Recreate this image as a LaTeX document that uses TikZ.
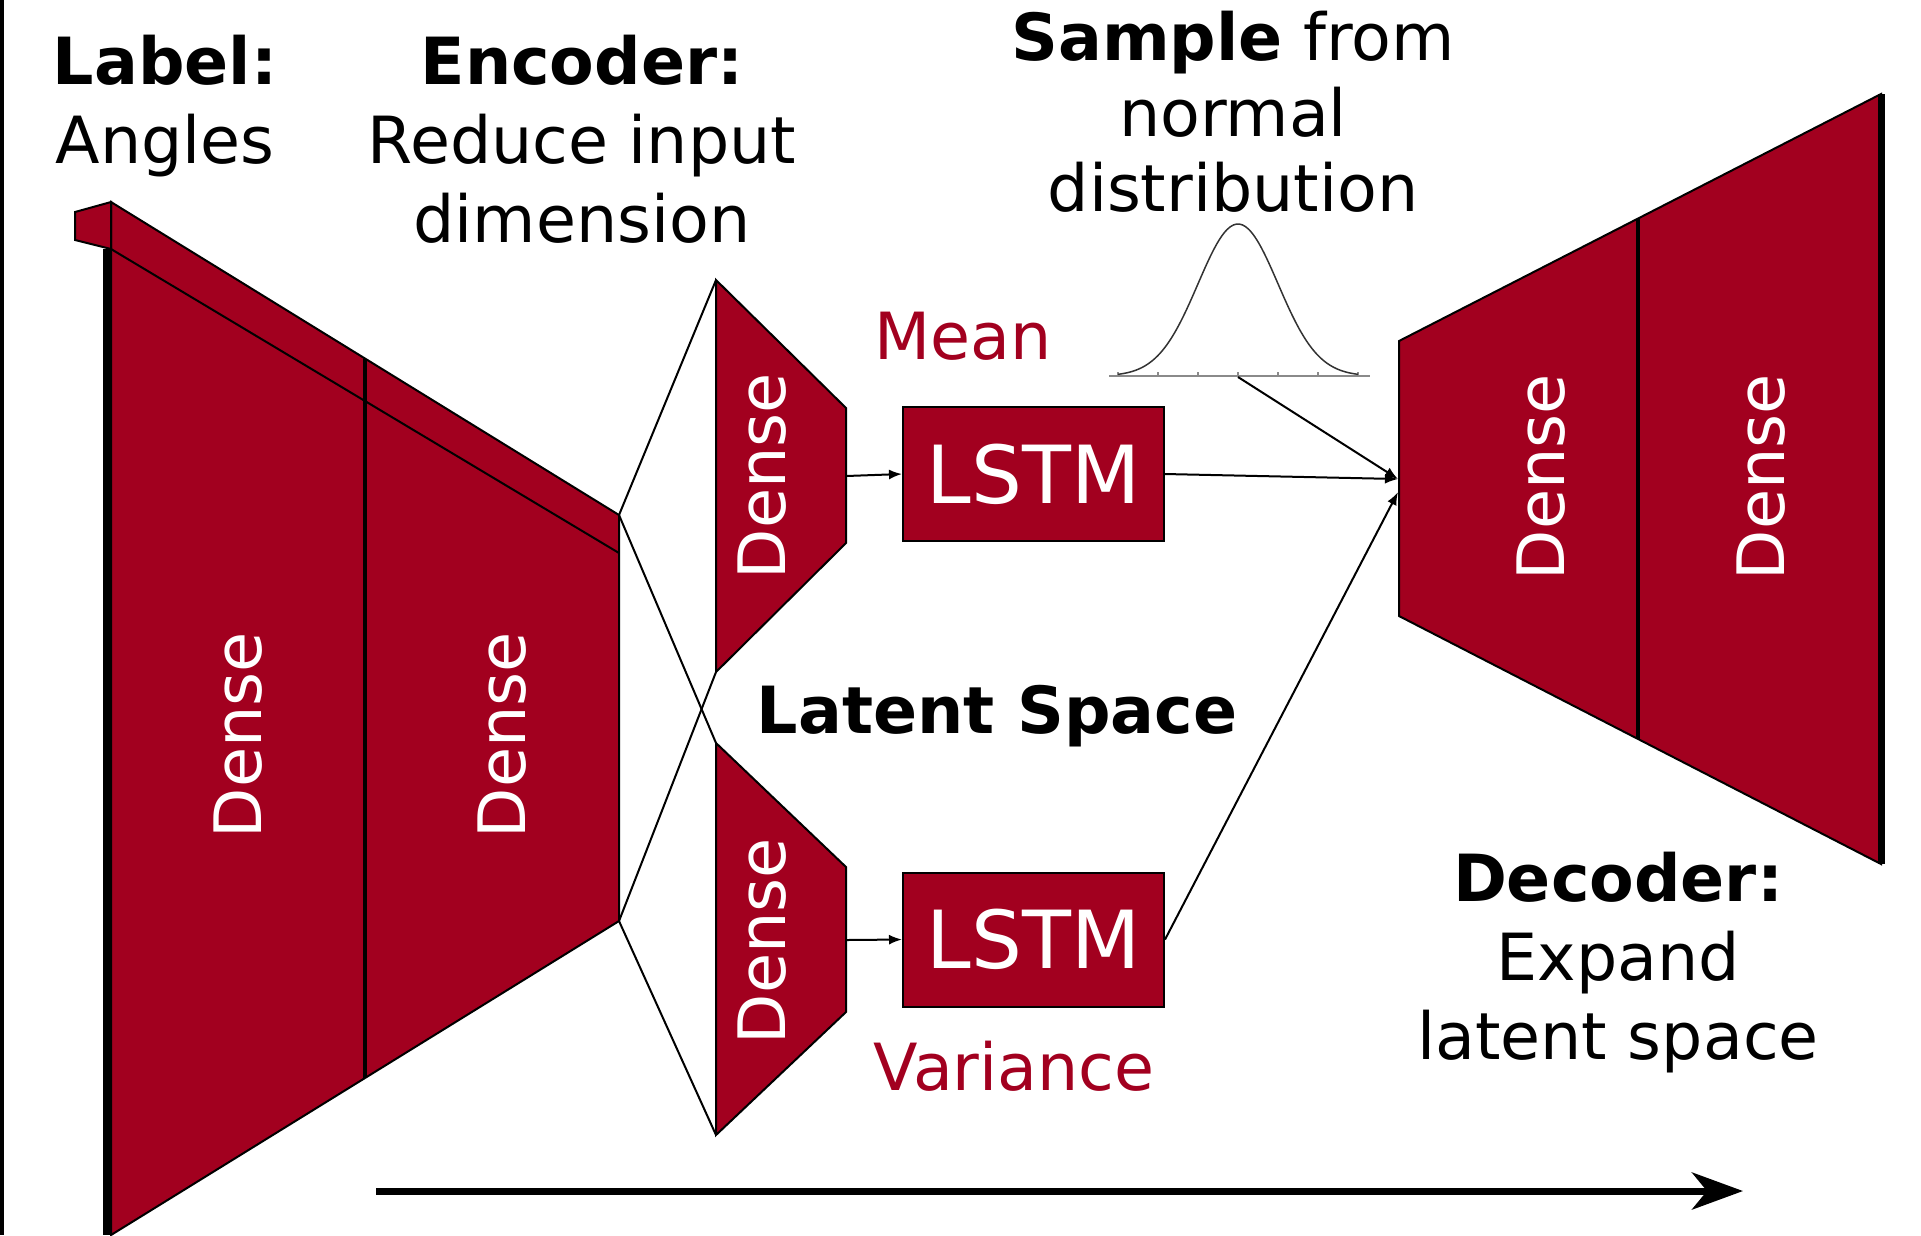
\documentclass[tikz,border=0pt]{standalone}
\usepackage{fontspec}
\setmainfont{DejaVu Sans}
\usetikzlibrary{arrows.meta, calc}
\definecolor{vaered}{HTML}{A2001F}
\definecolor{curve}{HTML}{333333}
\definecolor{axisgray}{HTML}{8A8A8A}
\newcommand{\labfont}{\fontsize{18.5}{22.6}\selectfont}
\newcommand{\densefont}{\fontsize{18.6}{20}\selectfont}
\newcommand{\lstmfont}{\fontsize{22.8}{26}\selectfont}

\begin{document}
\begin{tikzpicture}[x=1mm, y=-1mm,
  layerbox/.style={fill=vaered, draw=black, line width=0.2mm},
  denselbl/.style={rotate=90, text=white, inner sep=0pt, font=\densefont},
  lstmbox/.style={fill=vaered, draw=black, line width=0.2mm, text=white,
                  minimum width=26.1mm, minimum height=13.4mm, inner sep=0pt,
                  font=\lstmfont},
  wire/.style={black, line width=0.2mm},
  feed/.style={wire, -{Latex[length=1.3mm, width=1mm]}},
  capt/.style={align=center, inner sep=0pt, font=\labfont}]
  \useasboundingbox (0,0) rectangle (192.1,123.5);
  \draw[line width=0.4mm] (0.2,0) -- (0.2,123.5);

  % ---- encoder: two dense layers in one slab ----
  \coordinate (enctl) at (11.1,20.2);
  \coordinate (enctr) at (61.9,51.5);
  \coordinate (encbr) at (61.9,92.1);
  \coordinate (encbl) at (11.1,123.5);
  \draw[layerbox] (enctl) -- (enctr) -- (encbr) -- (encbl) -- cycle;
  \draw[layerbox] (7.5,21.2) -- (11.1,20.2) -- (11.1,24.9) -- (7.5,24.0) -- cycle;
  \draw[wire] (11.1,24.9) -- (61.9,55.3);
  \draw[line width=0.35mm] (36.5,35.85) -- (36.5,107.8);
  \draw[line width=0.8mm] (10.7,24.9) -- (10.7,123.5);
  \node[denselbl] (encd1) at (23.8,73.5) {Dense};
  \node[denselbl] (encd2) at (50.2,73.5) {Dense};

  % ---- latent space: mean and variance branches ----
  \coordinate (dmt) at (71.6,28.0);
  \coordinate (dmb) at (71.6,67.2);
  \coordinate (dmout) at (84.6,47.6);
  \coordinate (dvt) at (71.6,74.3);
  \coordinate (dvb) at (71.6,113.5);
  \coordinate (dvout) at (84.6,94.0);
  \draw[layerbox] (dmt) -- (84.6,40.8) -- (84.6,54.3) -- (dmb) -- cycle;
  \draw[layerbox] (dvt) -- (84.6,86.7) -- (84.6,101.2) -- (dvb) -- cycle;
  \node[denselbl] (densemean) at (76.2,47.6) {Dense};
  \node[denselbl] (densevar) at (76.2,94.1) {Dense};
  \draw[wire] (enctr) -- (dmt);
  \draw[wire] (enctr) -- (dvt);
  \draw[wire] (encbr) -- (dmb);
  \draw[wire] (encbr) -- (dvb);

  \node[lstmbox] (lstmmean) at (103.35,47.4) {LSTM};
  \node[lstmbox] (lstmvar) at (103.35,93.95) {LSTM};
  \draw[feed] (dmout) -- (lstmmean.west);
  \draw[feed] (dvout) -- (lstmvar.west);

  \node[text=vaered, font=\labfont, anchor=base] (meanlbl) at (96.3,35.9) {Mean};
  \node[text=vaered, font=\labfont, anchor=base] (varlbl) at (101.4,109.0) {Variance};
  \node[font=\labfont\bfseries, anchor=base] (latentlbl) at (99.7,73.3) {Latent Space};

  % ---- normal distribution sample ----
  \draw[axisgray, line width=0.18mm] (110.9,37.6) -- (137.0,37.6);
  \foreach \k in {-3,...,3}
    \draw[axisgray, line width=0.15mm] (123.8+4*\k,37.6) -- ++(0,-0.45);
  \draw[curve, line width=0.15mm, samples=80, smooth, domain=-3:3]
        plot ({123.8+4*\x},{37.6-15.2*exp(-0.5*(\x)*(\x))});
  \coordinate (gmid) at (123.8,37.7);

  % ---- decoder: two dense layers ----
  \coordinate (decin) at (139.8,47.9);
  \coordinate (decinlow) at (139.8,49.2);
  \draw[layerbox] (139.9,34.1) -- (188.1,9.4) -- (188.1,86.4) -- (139.9,61.6) -- cycle;
  \draw[line width=0.35mm] (163.8,21.85) -- (163.8,73.9);
  \draw[line width=0.7mm] (188.1,9.4) -- (188.1,86.4);
  \node[denselbl] (decd1) at (154.1,47.7) {Dense};
  \node[denselbl] (decd2) at (176.1,47.7) {Dense};
  \draw[feed] (lstmmean.east) -- (decin);
  \draw[feed] (gmid) -- (decin);
  \draw[feed] (lstmvar.east) -- (decinlow);

  % ---- captions ----
  \node[capt, anchor=north] (lblcap) at (16.5,3.4) {\textbf{Label:}\\Angles};
  \node[capt, anchor=north] (enccap) at (58.2,3.4) {\textbf{Encoder:}\\Reduce input\\dimension};
  \node[capt, anchor=north, font=\fontsize{18.5}{21.6}\selectfont] (samplecap) at (123.3,1.0)
        {\textbf{Sample} from\\normal\\distribution};
  \node[capt, anchor=north] (deccap) at (161.8,85.1) {\textbf{Decoder:}\\Expand\\latent space};

  % ---- flow direction ----
  \coordinate (flowstart) at (37.6,119.1);
  \coordinate (flowend) at (174.3,119.1);
  \draw[line width=0.7mm, -{Stealth[length=5.1mm, width=3.7mm, inset=1.5mm]}]
        (flowstart) -- (flowend);
\end{tikzpicture}
\end{document}
